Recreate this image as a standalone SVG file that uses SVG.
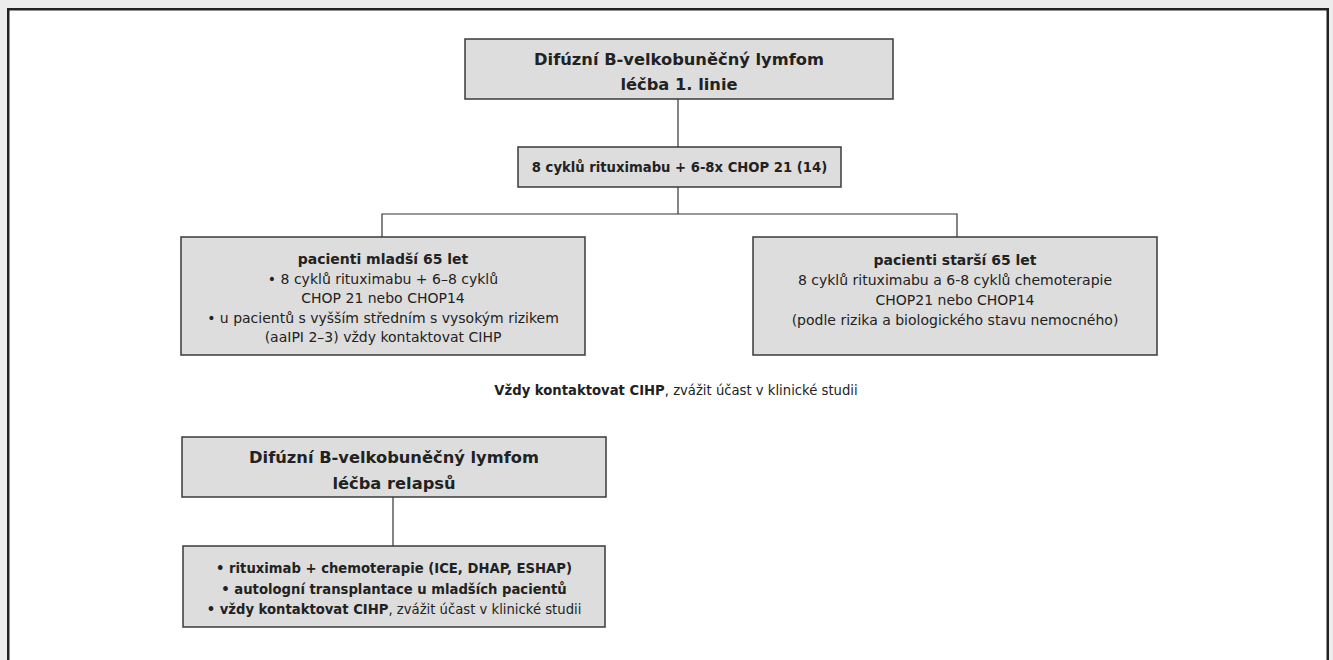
<svg xmlns="http://www.w3.org/2000/svg" width="1333" height="660" viewBox="0 0 1333 660">
<style>
text{font-family:"DejaVu Sans","Liberation Sans",Arial,sans-serif;fill:#222;text-anchor:middle}
.t{font-size:16.3px;font-weight:bold}
.m{font-size:13.2px;font-weight:bold}
.r{font-size:14px}
.b{font-weight:bold}
.s{font-size:13.2px}
.box{fill:#dddddd;stroke:#3a3a3a;stroke-width:1.5}
.c{stroke:#333;stroke-width:1.2;fill:none}
</style>
<rect x="0" y="0" width="1333" height="660" fill="#ececec"/>
<rect x="8.25" y="9.25" width="1319.5" height="700" fill="#fff" stroke="#222" stroke-width="2.5"/>
<g id="connectors">
<line class="c" x1="678" y1="99" x2="678" y2="147"/>
<line class="c" x1="678" y1="187" x2="678" y2="214"/>
<polyline class="c" points="382,237 382,214 957,214 957,237"/>
<line class="c" x1="393" y1="497" x2="393" y2="546"/>
</g>
<g id="n1">
<rect class="box" x="465" y="39" width="428" height="60"/>
<text class="t" x="679" y="65">Difúzní B-velkobuněčný lymfom</text>
<text class="t" x="679" y="90">léčba 1. linie</text>
</g>
<g id="n2">
<rect class="box" x="518" y="147" width="323" height="40"/>
<text class="m" x="679.5" y="172">8 cyklů rituximabu + 6-8x CHOP 21 (14)</text>
</g>
<g id="n3">
<rect class="box" x="181" y="237" width="404" height="118"/>
<text class="r b" x="383" y="264">pacienti mladší 65 let</text>
<text class="r" x="383" y="284">• 8 cyklů rituximabu + 6–8 cyklů</text>
<text class="r" x="383" y="303">CHOP 21 nebo CHOP14</text>
<text class="r" x="383" y="323">• u pacientů s vyšším středním s vysokým rizikem</text>
<text class="r" x="383" y="342">(aaIPI 2–3) vždy kontaktovat CIHP</text>
</g>
<g id="n4">
<rect class="box" x="753" y="237" width="404" height="118"/>
<text class="r b" x="955" y="265">pacienti starší 65 let</text>
<text class="r" x="955" y="285">8 cyklů rituximabu a 6-8 cyklů chemoterapie</text>
<text class="r" x="955" y="305">CHOP21 nebo CHOP14</text>
<text class="r" x="955" y="325">(podle rizika a biologického stavu nemocného)</text>
</g>
<g id="note">
<text class="s" x="676" y="395"><tspan class="b">Vždy kontaktovat CIHP</tspan>, zvážit účast v klinické studii</text>
</g>
<g id="n5">
<rect class="box" x="182" y="437" width="424" height="60"/>
<text class="t" x="394" y="463">Difúzní B-velkobuněčný lymfom</text>
<text class="t" x="394" y="489">léčba relapsů</text>
</g>
<g id="n6">
<rect class="box" x="183" y="546" width="422" height="81"/>
<text class="m" x="394" y="573">• rituximab + chemoterapie (ICE, DHAP, ESHAP)</text>
<text class="m" x="394" y="594">• autologní transplantace u mladších pacientů</text>
<text class="s" x="394" y="614"><tspan class="b">• vždy kontaktovat CIHP</tspan>, zvážit účast v klinické studii</text>
</g>
</svg>
